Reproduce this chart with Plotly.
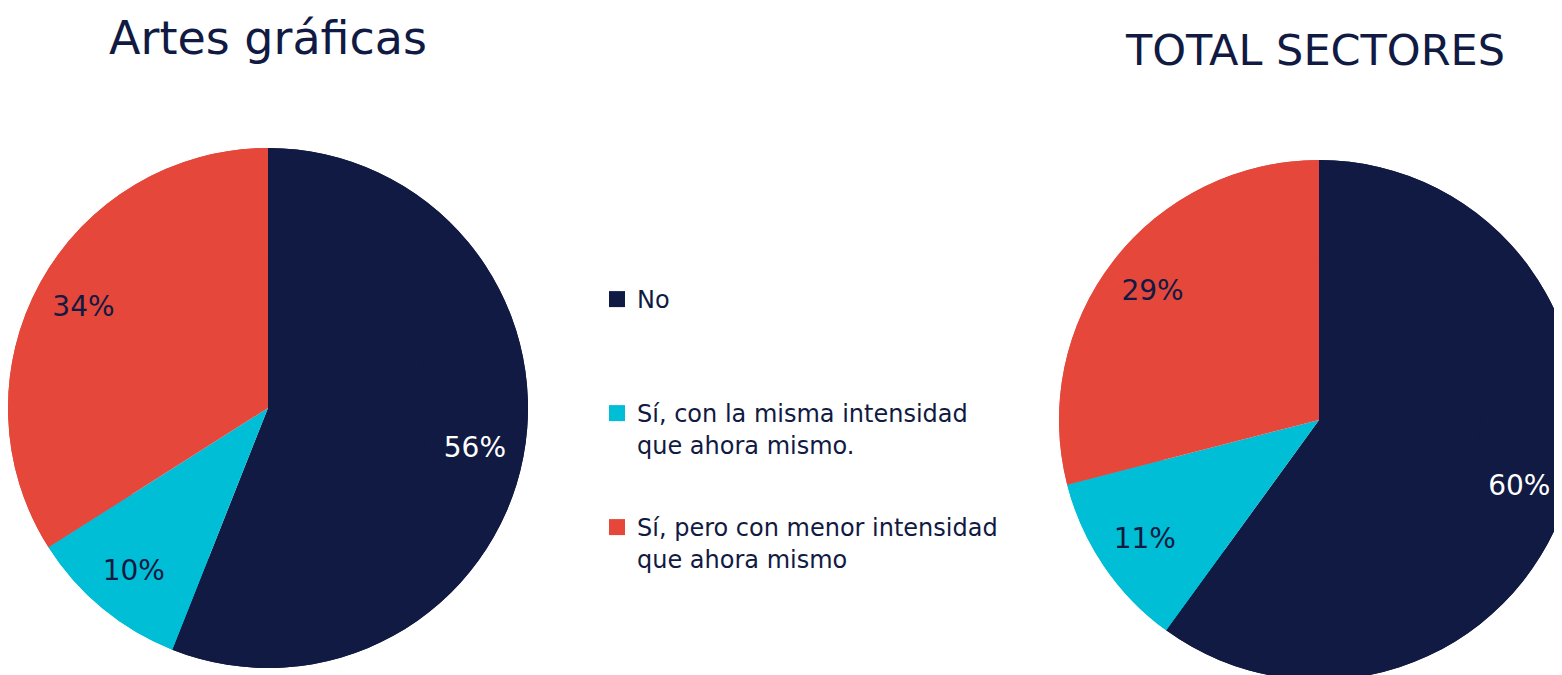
import plotly.graph_objects as go

categories = ["No", "Sí, con la misma intensidad<br>que ahora mismo.", "Sí, pero con menor intensidad<br>que ahora mismo"]
artes_values = [56, 10, 34]
total_values = [60, 11, 29]
titles = ["Artes gráficas", "TOTAL SECTORES"]
colors = ["#111A42", "#00BED6", "#E5473A"]
NAVY = "#111A42"
FONT = "DejaVu Sans"
W, H = 1600, 700
OFF = 8  # page body margin


def px(x):
    return (x - OFF) / W


def py(y):
    return 1 - (y - OFF) / H


fig = go.Figure()


def add_pie(values, cx, cy, r):
    dom = dict(x=[px(cx - r), px(cx + r)], y=[py(cy + r), py(cy - r)])
    common = dict(values=values, labels=categories, sort=False, direction="clockwise", rotation=0,
                  marker=dict(colors=colors, line=dict(width=0)), domain=dom, showlegend=False)
    fig.add_trace(go.Pie(textinfo="none", hoverinfo="label+percent", **common))
    fig.add_trace(go.Pie(hole=0.62, texttemplate="%{percent:.0%}", textposition="inside",
                         insidetextorientation="horizontal", hoverinfo="label+percent",
                         textfont=dict(family=FONT, size=28, color=["white", NAVY, NAVY]), **common))


add_pie(artes_values, 268, 408, 260)
add_pie(total_values, 1319, 420, 260)

legend_tops = [277, 391, 505]
legend_names = ["legend", "legend2", "legend3"]
for cat, col, lg in zip(categories, colors, legend_names):
    fig.add_trace(go.Scatter(x=[None], y=[None], mode="markers", name=cat, legend=lg,
                             marker=dict(symbol="square", size=16, color=col), showlegend=True))

legend_style = dict(font=dict(family=FONT, size=24, color=NAVY), bgcolor="rgba(0,0,0,0)",
                    xanchor="left", yanchor="top", valign="top", itemsizing="trace")
layout_legends = {}
for lg, top in zip(legend_names, legend_tops):
    layout_legends[lg] = dict(x=px(597), y=py(top), **legend_style)

fig.update_layout(
    width=W, height=H, margin=dict(l=0, r=0, t=0, b=0),
    paper_bgcolor="white", plot_bgcolor="white",
    xaxis=dict(visible=False), yaxis=dict(visible=False),
    annotations=[
        dict(text=titles[0], x=px(268), y=py(38), xref="paper", yref="paper", showarrow=False,
             xanchor="center", yanchor="middle", font=dict(family=FONT, size=46, color=NAVY)),
        dict(text=titles[1], x=px(1315), y=py(50), xref="paper", yref="paper", showarrow=False,
             xanchor="center", yanchor="middle", font=dict(family=FONT, size=43, color=NAVY)),
    ],
    **layout_legends,
)

fig.write_html("out.html")
